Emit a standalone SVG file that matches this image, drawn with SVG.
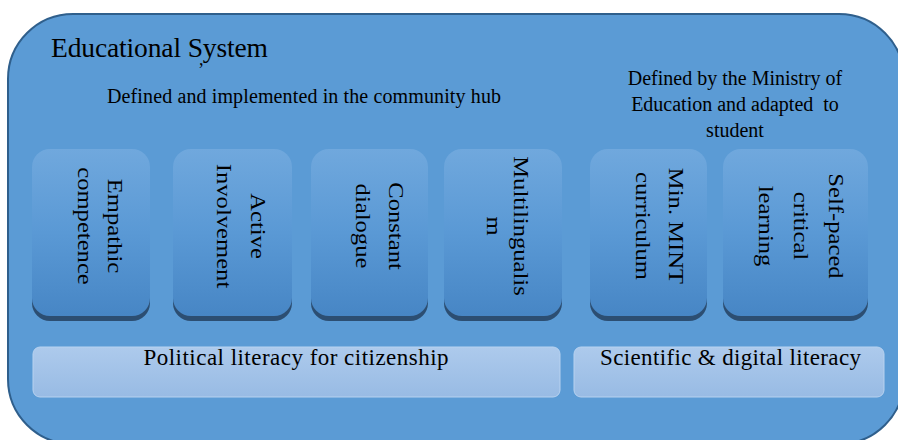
<svg xmlns="http://www.w3.org/2000/svg" width="898" height="440" viewBox="0 0 898 440">
<defs>
<linearGradient id="boxGrad" x1="0" y1="0" x2="0" y2="1">
<stop offset="0" stop-color="#70A8DD"/>
<stop offset="0.5" stop-color="#5A99D5"/>
<stop offset="1" stop-color="#4786C5"/>
</linearGradient>
<linearGradient id="barGrad" x1="0" y1="0" x2="0" y2="1">
<stop offset="0" stop-color="#ADCAEC"/>
<stop offset="1" stop-color="#98BBE4"/>
</linearGradient>
</defs>
<style>
.serif{font-family:"Liberation Serif","Times New Roman",serif;fill:#000;}
.shadow{fill:#2C4E72;}
.face{fill:url(#boxGrad);}
.bar{fill:url(#barGrad);stroke:#B8D2F0;stroke-width:1;}
.vt{font-size:22px;text-anchor:middle;}
.hd{font-size:20px;}
.bt{font-size:23px;text-anchor:middle;}
</style>
<g id="educational-system">
<rect x="8" y="14" width="896" height="430" rx="65" ry="65" fill="#5B9BD5" stroke="#2F5F8C" stroke-width="2"/>
<text class="serif" x="51" y="57" font-size="27.5" textLength="217">Educational System</text>
<text class="serif" x="199" y="65" font-size="18">,</text>
</g>
<g id="header-community">
<text class="serif hd" x="107" y="103" textLength="394">Defined and implemented in the community hub</text>
</g>
<g id="header-ministry">
<text class="serif hd" text-anchor="middle" x="735" y="85">Defined by the Ministry of</text>
<text class="serif hd" text-anchor="middle" x="735" y="111" xml:space="preserve">Education and adapted  to</text>
<text class="serif hd" text-anchor="middle" x="735" y="137">student</text>
</g>
<g id="node-empathic">
<rect class="shadow" x="32" y="154" width="118" height="167" rx="18"/>
<rect class="face" x="32" y="149" width="118" height="167" rx="18"/>
<g transform="translate(108,226) rotate(90) scale(1.12 1)">
<text class="serif vt" x="0" y="0">Empathic</text>
<text class="serif vt" x="0" y="30">competence</text>
</g>
</g>
<g id="node-active">
<rect class="shadow" x="173" y="154" width="119" height="167" rx="18"/>
<rect class="face" x="173" y="149" width="119" height="167" rx="18"/>
<g transform="translate(251,226) rotate(90) scale(1.12 1)">
<text class="serif vt" x="0" y="0">Active</text>
<text class="serif vt" x="0" y="34">Involvement</text>
</g>
</g>
<g id="node-constant">
<rect class="shadow" x="311" y="154" width="117" height="167" rx="18"/>
<rect class="face" x="311" y="149" width="117" height="167" rx="18"/>
<g transform="translate(389,226) rotate(90) scale(1.12 1)">
<text class="serif vt" x="0" y="0">Constant</text>
<text class="serif vt" x="0" y="33">dialogue</text>
</g>
</g>
<g id="node-multilingualism">
<rect class="shadow" x="444" y="154" width="118" height="167" rx="18"/>
<rect class="face" x="444" y="149" width="118" height="167" rx="18"/>
<g transform="translate(514,226) rotate(90) scale(1.12 1)">
<text class="serif vt" x="0" y="0">Multilingualis</text>
<text class="serif vt" x="0" y="27">m</text>
</g>
</g>
<g id="node-mint">
<rect class="shadow" x="590" y="154" width="117" height="167" rx="18"/>
<rect class="face" x="590" y="149" width="117" height="167" rx="18"/>
<g transform="translate(669,226) rotate(90) scale(1.12 1)">
<text class="serif vt" x="0" y="0">Min. MINT</text>
<text class="serif vt" x="0" y="33">curriculum</text>
</g>
</g>
<g id="node-selfpaced">
<rect class="shadow" x="723" y="154" width="145" height="167" rx="18"/>
<rect class="face" x="723" y="149" width="145" height="167" rx="18"/>
<g transform="translate(829,226) rotate(90) scale(1.12 1)">
<text class="serif vt" x="0" y="0">Self-paced</text>
<text class="serif vt" x="0" y="35">critical</text>
<text class="serif vt" x="0" y="70">learning</text>
</g>
</g>
<g id="bar-political">
<rect class="bar" x="33" y="347" width="527" height="50" rx="7"/>
<text class="serif bt" x="296" y="365" textLength="305">Political literacy for citizenship</text>
</g>
<g id="bar-scientific">
<rect class="bar" x="574" y="347" width="310" height="50" rx="7"/>
<text class="serif bt" x="730.5" y="365" textLength="261">Scientific &amp; digital literacy</text>
</g>
<g id="connectors"></g>
</svg>
